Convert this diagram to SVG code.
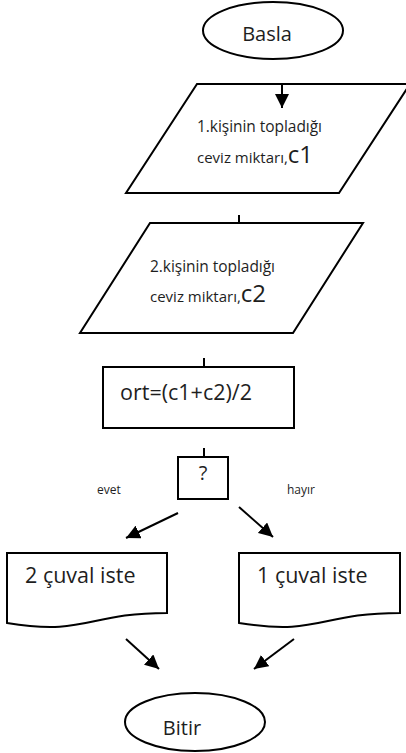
<svg xmlns="http://www.w3.org/2000/svg" width="406" height="753" viewBox="0 0 406 753">
  <style>
    .shape { fill: #ffffff; stroke: #000000; stroke-width: 2; }
    .txt { font-family: "Open Sans", "Noto Sans", "Liberation Sans", sans-serif; fill: #1e1e1e; }
    .line { stroke: #000000; stroke-width: 2; fill: none; }
    .arrow { stroke: #000000; stroke-width: 2; fill: none; marker-end: url(#head); }
  </style>
  <defs>
    <marker id="head" markerUnits="userSpaceOnUse" markerWidth="16" markerHeight="14" refX="14" refY="7" orient="auto">
      <path d="M0,0 L14,7 L0,14 Z" fill="#000000"/>
    </marker>
  </defs>
  <rect width="406" height="753" fill="#ffffff"/>

  <g id="start">
    <ellipse class="shape" cx="273" cy="30.5" rx="70" ry="28.5"/>
    <text class="txt" x="267" y="41" font-size="20" text-anchor="middle">Basla</text>
  </g>

  <g id="input1">
    <polygon class="shape" points="197,84 410,84 339,193 126,193"/>
    <text class="txt" x="197" y="132" font-size="15.5" textLength="125" lengthAdjust="spacing">1.kişinin topladığı</text>
    <text class="txt" x="197" y="163" font-size="15">ceviz miktarı,<tspan font-size="24">c1</tspan></text>
  </g>

  <g id="input2">
    <polygon class="shape" points="150,223 363,223 293,333 80,333"/>
    <text class="txt" x="150" y="272" font-size="15.5" textLength="125" lengthAdjust="spacing">2.kişinin topladığı</text>
    <text class="txt" x="150" y="302" font-size="15">ceviz miktarı,<tspan font-size="24">c2</tspan></text>
  </g>

  <g id="average">
    <rect class="shape" x="103" y="367" width="191" height="61"/>
    <text class="txt" x="120" y="400" font-size="21.5">ort=(c1+c2)/2</text>
  </g>

  <g id="decision">
    <rect class="shape" x="178" y="457" width="50" height="42"/>
    <text class="txt" x="203" y="480" font-size="20" text-anchor="middle">?</text>
  </g>

  <g id="labels">
    <text class="txt" x="97" y="494" font-size="12">evet</text>
    <text class="txt" x="287" y="494" font-size="12">hayır</text>
  </g>

  <g id="output2">
    <path class="shape" d="M7,553 H167 V613 C87,613 87,636 7,623 Z"/>
    <text class="txt" x="25" y="583" font-size="21.5">2 çuval iste</text>
  </g>

  <g id="output1">
    <path class="shape" d="M239,553 H400 V613 C319.5,613 319.5,636 239,623 Z"/>
    <text class="txt" x="257" y="583" font-size="21.5">1 çuval iste</text>
  </g>

  <g id="end">
    <ellipse class="shape" cx="195" cy="722" rx="70" ry="29"/>
    <text class="txt" x="182" y="735" font-size="20" text-anchor="middle">Bitir</text>
  </g>

  <g id="connectors">
    <line class="arrow" x1="282" y1="84" x2="282" y2="108"/>
    <line class="line" x1="239" y1="215" x2="239" y2="223"/>
    <line class="line" x1="204" y1="358" x2="204" y2="367"/>
    <line class="line" x1="204" y1="448" x2="204" y2="457"/>
    <line class="arrow" x1="178" y1="513" x2="126" y2="538"/>
    <line class="arrow" x1="239" y1="507" x2="273" y2="537"/>
    <line class="arrow" x1="126" y1="639" x2="159" y2="669"/>
    <line class="arrow" x1="294" y1="639" x2="254" y2="669"/>
  </g>
</svg>
